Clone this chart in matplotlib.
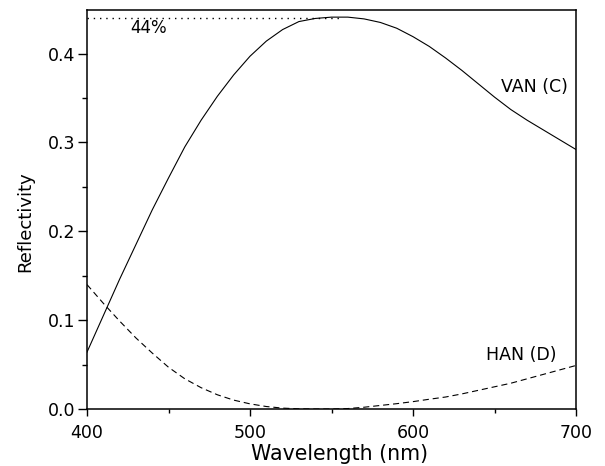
import matplotlib
matplotlib.use("Agg")
import matplotlib.pyplot as plt
from matplotlib.ticker import MultipleLocator

plt.rcParams['font.family'] = ['DejaVu Sans']

# wavelength grid (nm)
wl = [400, 410, 420, 430, 440, 450, 460, 470, 480, 490, 500, 510, 520, 530,
      540, 550, 560, 570, 580, 590, 600, 610, 620, 630, 640, 650, 660, 670,
      680, 690, 700]

# VAN (C) reflectivity
van_r = [0.064, 0.105, 0.146, 0.185, 0.224, 0.260, 0.295, 0.325, 0.352, 0.376,
         0.397, 0.414, 0.427, 0.436, 0.4395, 0.441, 0.441, 0.439, 0.435,
         0.4285, 0.419, 0.408, 0.395, 0.381, 0.366, 0.351, 0.337, 0.325,
         0.314, 0.303, 0.292]

# HAN (D) reflectivity
han_r = [0.140, 0.119, 0.099, 0.080, 0.063, 0.047, 0.034, 0.024, 0.016, 0.010,
         0.0058, 0.0028, 0.001, 0.0002, 0.0, 0.0, 0.0005, 0.002, 0.004, 0.006,
         0.0083, 0.011, 0.0135, 0.017, 0.021, 0.025, 0.029, 0.034, 0.039,
         0.044, 0.049]

peak_wl = 555
peak_r = 0.44

fig = plt.figure(figsize=(6.05, 4.66), dpi=100)
ax = fig.add_axes([0.1438, 0.1223, 0.8083, 0.8562])

ax.plot(wl, van_r, color="black", lw=0.8)
ax.plot(wl, han_r, color="black", lw=0.8, ls=(0, (5.5, 3.5)))
ax.plot([400, peak_wl], [peak_r, peak_r], color="black", lw=1.0, ls=(0, (1, 3.5)))

ax.text(426.4, 0.4235, "44%", fontsize=12, va="baseline", ha="left")
ax.text(654.0, 0.357, "VAN (C)", fontsize=12.5, va="baseline", ha="left")
ax.text(644.5, 0.0551, "HAN (D)", fontsize=12.5, va="baseline", ha="left")

ax.set_xlim(400, 700)
ax.set_ylim(0, 0.449)
ax.xaxis.set_major_locator(MultipleLocator(100))
ax.xaxis.set_minor_locator(MultipleLocator(50))
ax.yaxis.set_major_locator(MultipleLocator(0.1))
ax.yaxis.set_minor_locator(MultipleLocator(0.05))
ax.tick_params(which="both", direction="out", top=False, right=False,
               labelsize=12.5, width=1.0)
ax.tick_params(axis="x", which="major", length=5, pad=5.5)
ax.tick_params(axis="x", which="minor", length=3.2)
ax.tick_params(axis="y", which="major", length=6.5, pad=2)
ax.tick_params(axis="y", which="minor", length=3.5)
for s in ax.spines.values():
    s.set_linewidth(1.1)

ax.set_xlabel("Wavelength (nm)", fontsize=14.8)
ax.xaxis.set_label_coords(0.517, -0.087)
ax.set_ylabel("Reflectivity", fontsize=13)
ax.yaxis.set_label_coords(-0.107, 0.469)

plt.savefig("out.png", dpi=100)
